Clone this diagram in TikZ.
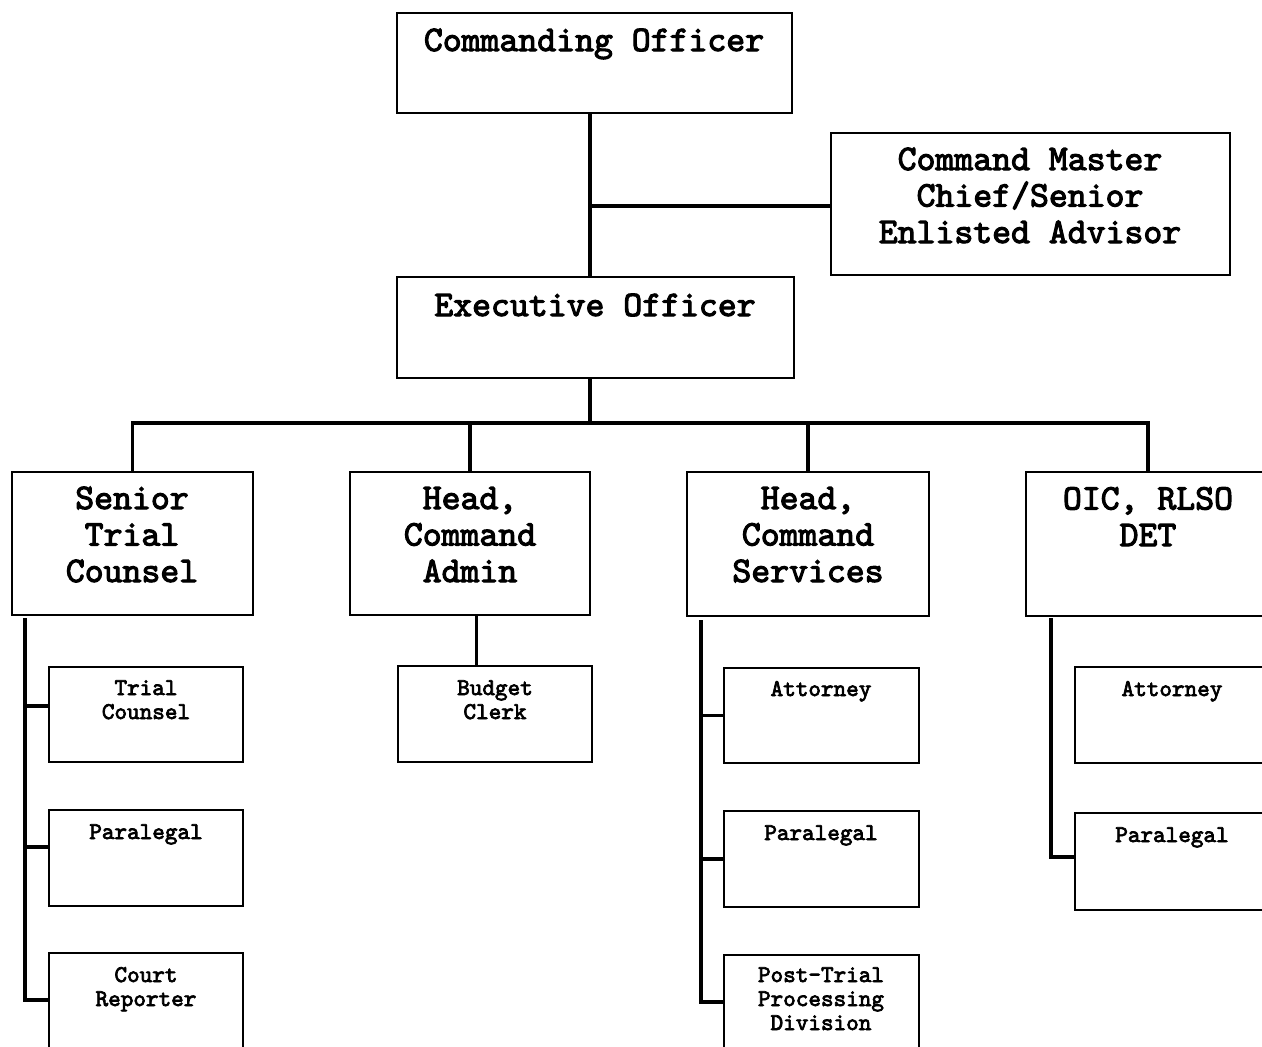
\documentclass[tikz,border=0pt]{standalone}
\usepackage{fontspec}
\newfontfamily\cour{lmmono10-regular.otf}[FakeBold=3]
\tikzset{
  box/.style={draw, line width=1.4pt, inner sep=0pt, outer sep=0pt, fill=white},
  conn/.style={line width=3.8pt},
  bigtxt/.style={font=\cour\fontsize{36}{36.5}\selectfont, align=center, inner sep=0pt, anchor=base},
  smtxt/.style={font=\cour\fontsize{24}{24}\selectfont, align=center, inner sep=0pt, anchor=base},
}
\newcommand\mkbox[5]{\node[box, minimum width={(#4-#2)*1pt}, minimum height={(#5-#3)*1pt}] (#1) at ({(#2+#4)/2},{(#3+#5)/2}) {};}
\begin{document}
\begin{tikzpicture}[x=1pt,y=-1pt]
\useasboundingbox (0,0) rectangle (1262,1047);
\clip (0,0) rectangle (1262,1047);
\fill[white] (0,0) rectangle (1262,1047);
% boxes
\mkbox{CO}{397}{13}{792}{113}
\mkbox{CMC}{831}{133}{1230}{275}
\mkbox{XO}{397}{277}{794}{378}
\mkbox{STC}{12}{472}{253}{615}
\mkbox{HCA}{350}{472}{590}{615}
\mkbox{HCS}{687}{472}{929}{616}
\mkbox{OIC}{1026}{472}{1270}{616}
\mkbox{TC}{49}{667}{243}{762}
\mkbox{PLa}{49}{810}{243}{906}
\mkbox{CR}{49}{953}{243}{1060}
\mkbox{BC}{398}{666}{592}{762}
\mkbox{ATb}{724}{668}{919}{763}
\mkbox{PLb}{724}{811}{919}{907}
\mkbox{PT}{724}{955}{919}{1060}
\mkbox{ATc}{1075}{667}{1270}{763}
\mkbox{PLc}{1075}{813}{1270}{910}
% texts (anchor = baseline of last line)
\node[bigtxt] (COt) at (594,51) {Commanding Officer};
\node[bigtxt] (CMCt) at (1030,243) {Command Master\\Chief/Senior\\Enlisted Advisor};
\node[bigtxt] (XOt) at (595,316) {Executive Officer};
\node[bigtxt] (STCt) at (132,582) {Senior\\Trial\\Counsel};
\node[bigtxt] (HCAt) at (470,582) {Head,\\Command\\Admin};
\node[bigtxt] (HCSt) at (808,582) {Head,\\Command\\Services};
\node[bigtxt] (OICt) at (1148,546) {OIC, RLSO\\DET};
\node[smtxt] (TCt) at (146,719) {Trial\\Counsel};
\node[smtxt] (PLat) at (146,839) {Paralegal};
\node[smtxt] (CRt) at (146,1006) {Court\\Reporter};
\node[smtxt] (BCt) at (495,719) {Budget\\Clerk};
\node[smtxt] (ATbt) at (821,696) {Attorney};
\node[smtxt] (PLbt) at (821,840) {Paralegal};
\node[smtxt] (PTt) at (821,1030) {Post-Trial\\Processing\\Division};
\node[smtxt] (ATct) at (1172,696) {Attorney};
\node[smtxt] (PLct) at (1172,842) {Paralegal};
% connectors
\coordinate (sp) at (590,0);
\coordinate (bus) at (590,423);
\coordinate (lx) at (25,0);
\coordinate (mx) at (701,0);
\coordinate (rx) at (1051,0);
\coordinate (bx) at (476,0);
\draw[conn] (CO.south -| sp) -- (XO.north -| sp);
\draw[conn] ([yshift=-2pt]CMC.west) -- ([yshift=-2pt]CMC.west -| sp);
\draw[conn] (XO.south -| sp) -- (bus);
\draw[conn] (STC.north) |- (bus) -| (OIC.north);
\draw[conn] (HCA.north) -- (HCA.north |- bus);
\draw[conn] (HCS.north) -- (HCS.north |- bus);
\draw[conn] ([yshift=-3pt]STC.south -| lx) |- ([yshift=6.5pt]CR.west);
\draw[conn] ([yshift=8.5pt]TC.west) -- ([yshift=8.5pt]TC.west -| lx);
\draw[conn] ([yshift=11pt]PLa.west) -- ([yshift=11pt]PLa.west -| lx);
\draw[conn, line width=3pt] (HCA.south -| bx) -- (BC.north -| bx);
\draw[conn] ([yshift=-4pt]HCS.south -| mx) |- ([yshift=5.5pt]PT.west);
\draw[conn] (ATb.west) -- (ATb.west -| mx);
\draw[conn] (PLb.west) -- (PLb.west -| mx);
\draw[conn] ([yshift=-2pt]OIC.south -| rx) |- ([yshift=4.5pt]PLc.west);
\end{tikzpicture}
\end{document}
